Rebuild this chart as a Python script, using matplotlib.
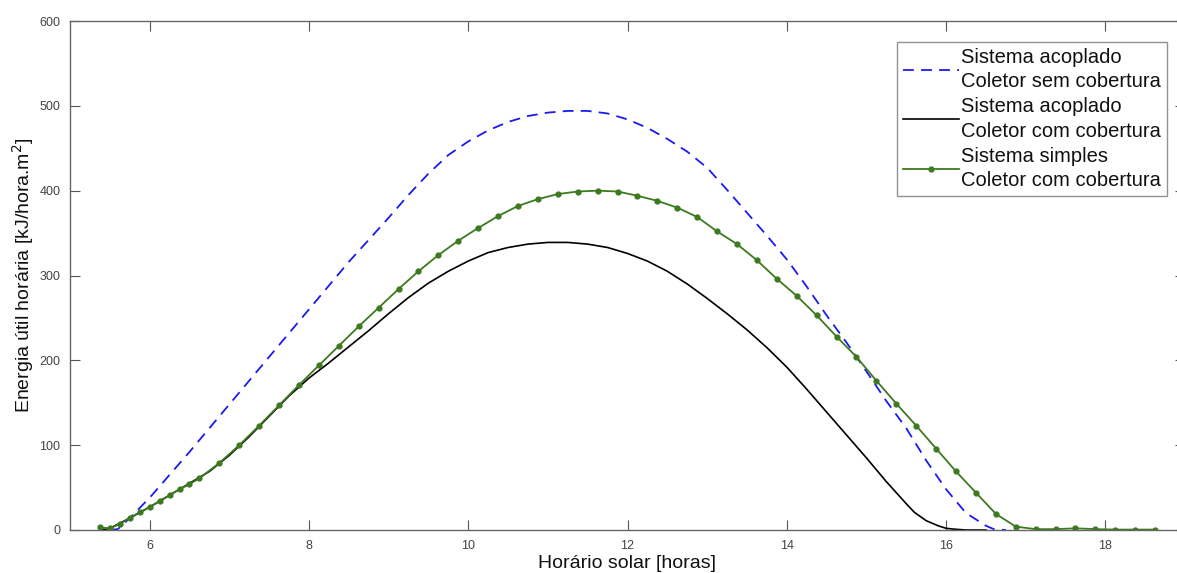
import matplotlib
matplotlib.use("Agg")
import matplotlib.pyplot as plt

plt.rcParams['font.family'] = ['Liberation Sans', 'DejaVu Sans']

# Sistema acoplado - coletor sem cobertura (azul tracejado)
hora_azul = [5.5, 5.6, 5.75, 6.0, 6.25, 6.5, 6.75, 7.0, 7.25, 7.5, 7.75, 8.0, 8.25, 8.5,
             8.75, 9.0, 9.25, 9.5, 9.75, 10.0, 10.25, 10.5, 10.75, 11.0, 11.25, 11.5,
             11.75, 12.0, 12.25, 12.5, 12.75, 13.0, 13.25, 13.5, 13.75, 14.0, 14.25,
             14.5, 14.75, 15.0, 15.25, 15.5, 15.75, 16.0, 16.25, 16.5, 16.6, 16.75]
energia_azul = [0, 1, 14, 38, 65, 92, 120, 148, 176, 204, 232, 260, 288, 316,
                342, 368, 395, 420, 442, 458, 471, 481, 488, 492, 494, 494,
                491, 484, 474, 461, 446, 427, 401, 374, 347, 319, 287,
                253, 221, 187, 152, 120, 82, 48, 20, 5, 1, 0]

# Sistema acoplado - coletor com cobertura (preto)
hora_preto = [5.4, 5.5, 5.75, 6.0, 6.25, 6.5, 6.75, 7.0, 7.25, 7.5, 7.75, 8.0, 8.25, 8.5,
              8.75, 9.0, 9.25, 9.5, 9.75, 10.0, 10.25, 10.5, 10.75, 11.0, 11.25, 11.5,
              11.75, 12.0, 12.25, 12.5, 12.75, 13.0, 13.25, 13.5, 13.75, 14.0, 14.25,
              14.5, 14.75, 15.0, 15.25, 15.5, 15.6, 15.75, 15.9, 16.0, 16.1, 16.25, 16.5]
energia_preto = [0, 2, 14, 27, 41, 55, 69, 88, 110, 134, 158, 179, 197, 216,
                 235, 255, 274, 291, 305, 317, 327, 333, 337, 339, 339, 337,
                 333, 326, 317, 305, 290, 273, 255, 236, 215, 192, 166,
                 139, 112, 85, 57, 31, 21, 11, 5, 2, 1, 0, 0]

# Sistema simples - coletor com cobertura (verde com marcadores)
hora_verde = [5.375, 5.5, 5.625, 5.75, 5.875, 6.0, 6.125, 6.25, 6.375, 6.5, 6.625,
              6.875, 7.125, 7.375, 7.625, 7.875, 8.125, 8.375, 8.625, 8.875, 9.125,
              9.375, 9.625, 9.875, 10.125, 10.375, 10.625, 10.875, 11.125, 11.375,
              11.625, 11.875, 12.125, 12.375, 12.625, 12.875, 13.125, 13.375, 13.625,
              13.875, 14.125, 14.375, 14.625, 14.875, 15.125, 15.375, 15.625, 15.875,
              16.125, 16.375, 16.625, 16.875, 17.125, 17.375, 17.625, 17.875, 18.125,
              18.375, 18.625]
energia_verde = [3, 2, 7, 14, 21, 27, 34, 41, 48, 54, 61,
                 79, 100, 123, 147, 171, 194, 217, 240, 262, 284,
                 305, 324, 341, 356, 370, 382, 390, 396, 399,
                 400, 399, 394, 388, 380, 369, 352, 337, 318,
                 296, 276, 253, 228, 204, 176, 149, 123, 96,
                 69, 44, 19, 4, 1, 1, 2, 1, 0.5,
                 0.5, 0.5]

rotulos = ["Sistema acoplado\nColetor sem cobertura",
           "Sistema acoplado\nColetor com cobertura",
           "Sistema simples\nColetor com cobertura"]

fig = plt.figure(figsize=(11.77, 5.73), dpi=100)
ax = fig.add_axes([70 / 1177, 1 - 530 / 573, (1185 - 70) / 1177, (530 - 21) / 573])

ax.plot(hora_azul, energia_azul, '--', color='#1a1aee', lw=1.3, dashes=(6, 4), label=rotulos[0])
ax.plot(hora_preto, energia_preto, '-', color='black', lw=1.2, label=rotulos[1])
ax.plot(hora_verde, energia_verde, '-', color='#3d7a1f', lw=1.3, marker='o', ms=3.5,
        mfc='#3d7a1f', mec='#3d7a1f', label=rotulos[2])

ax.set_xlim(5, 19)
ax.set_ylim(0, 600)
ax.set_xticks([6, 8, 10, 12, 14, 16, 18])
ax.set_yticks([0, 100, 200, 300, 400, 500, 600])
ax.tick_params(direction='in', length=7, width=0.8, colors='#555555', labelcolor='#444444',
               labelsize=9, top=True, right=True, pad=7)
for s in ax.spines.values():
    s.set_color('#666666')
    s.set_linewidth(1.0)

ax.set_xlabel("Horário solar [horas]", fontsize=14, color='#111111', labelpad=2)
ax.set_ylabel("Energia útil horária [kJ/hora.m$^2$]", fontsize=14, color='#111111', labelpad=2)

leg = ax.legend(loc='upper right', bbox_to_anchor=(1167 / 1177, 1 - 42 / 573),
                bbox_transform=fig.transFigure, fontsize=14.5, frameon=True, fancybox=False,
                edgecolor='#777777', handlelength=2.8, handletextpad=0.1, labelspacing=0.3,
                borderpad=0.3, numpoints=1, borderaxespad=0)
leg.get_frame().set_linewidth(1.0)
for t in leg.get_texts():
    t.set_linespacing(1.35)
    t.set_color('#111111')

fig.savefig('out.png', dpi=100)
